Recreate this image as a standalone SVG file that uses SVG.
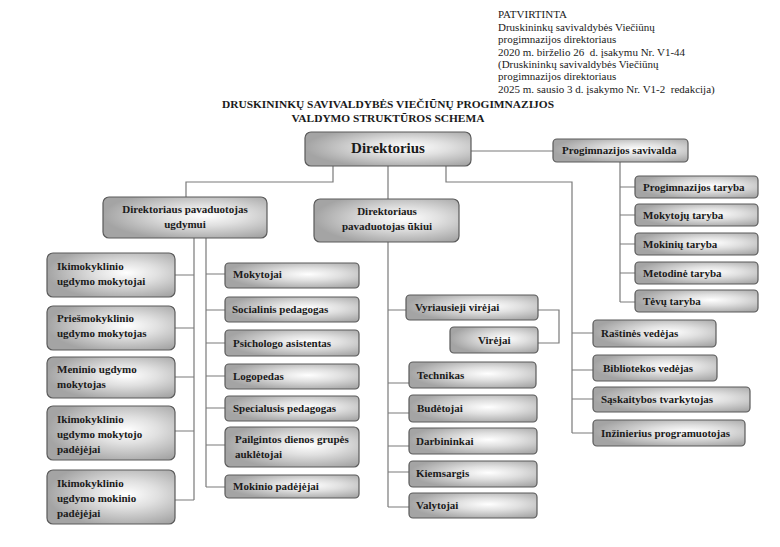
<svg xmlns="http://www.w3.org/2000/svg" width="780" height="547" viewBox="0 0 780 547">
<defs>
<radialGradient id="g" cx="0.62" cy="0.45" r="0.62">
<stop offset="0" stop-color="#ffffff"/>
<stop offset="0.4" stop-color="#e0e0e0"/>
<stop offset="1" stop-color="#a4a4a4"/>
</radialGradient>
</defs>
<style>
.b{fill:url(#g);stroke:#5a5a5a;stroke-width:1.2}
.t{font-family:"Liberation Serif","Times New Roman",serif;font-weight:bold;font-size:11px;fill:#1a1a1a}
.c{text-anchor:middle}
.h{font-family:"Liberation Serif","Times New Roman",serif;font-size:11px;fill:#1a1a1a;white-space:pre}
.ttl{font-family:"Liberation Serif","Times New Roman",serif;font-weight:bold;font-size:11.4px;fill:#1a1a1a;text-anchor:middle}
.l{fill:none;stroke:#7a7a7a;stroke-width:1.2}
</style>
<rect width="780" height="547" fill="#ffffff"/>
<g id="header">
<text class="h" x="498" y="18">PATVIRTINTA</text>
<text class="h" x="498" y="31">Druskininkų savivaldybės Viečiūnų</text>
<text class="h" x="498" y="43">progimnazijos direktoriaus</text>
<text class="h" x="498" y="56">2020 m. birželio 26  d. įsakymu Nr. V1-44</text>
<text class="h" x="498" y="68">(Druskininkų savivaldybės Viečiūnų</text>
<text class="h" x="498" y="80">progimnazijos direktoriaus</text>
<text class="h" x="498" y="93">2025 m. sausio 3 d. įsakymo Nr. V1-2  redakcija)</text>
<text class="ttl" x="388" y="108">DRUSKININKŲ SAVIVALDYBĖS VIEČIŪNŲ PROGIMNAZIJOS</text>
<text class="ttl" x="388" y="122">VALDYMO STRUKTŪROS SCHEMA</text>
</g>
<g id="connectors">
<path class="l" d="M333,166 V182 H186 V197"/>
<path class="l" d="M388,166 V199"/>
<path class="l" d="M446,166 V182 H572 V433"/>
<path class="l" d="M471,151 H553"/>
<path class="l" d="M620,162 V302"/>
<path class="l" d="M620,187 H635 M620,215 H635 M620,244 H635 M620,273 H635 M620,302 H635"/>
<path class="l" d="M194,238 V500 M175,275 H194 M175,328 H194 M175,377 H194 M175,431 H194 M175,500 H194"/>
<path class="l" d="M206,238 V487 M206,274 H225 M206,310 H225 M206,343 H225 M206,376 H225 M206,408 H225 M206,445 H225 M206,487 H225"/>
<path class="l" d="M388,242 V507 M388,310 H406 M388,383 H409 M388,413 H409 M388,446 H409 M388,472 H409 M388,507 H409"/>
<path class="l" d="M538,310 H559 V343 H538"/>
<path class="l" d="M572,333 H593 M572,370 H593 M572,399 H593 M572,433 H593"/>
</g>
<g id="n-direktorius"><rect class="b" x="305" y="132" width="166" height="34" rx="6"/><text class="t c" x="388" y="153" style="font-size:15px">Direktorius</text></g>
<g id="n-savivalda"><rect class="b" x="553" y="139" width="135" height="23" rx="4"/><text class="t" x="562" y="154">Progimnazijos savivalda</text></g>
<g id="n-prog-taryba"><rect class="b" x="635" y="176" width="123" height="22" rx="4"/><text class="t" x="643" y="191">Progimnazijos taryba</text></g>
<g id="n-mokytoju-taryba"><rect class="b" x="635" y="204" width="123" height="22" rx="4"/><text class="t" x="643" y="219">Mokytojų taryba</text></g>
<g id="n-mokiniu-taryba"><rect class="b" x="635" y="233" width="123" height="22" rx="4"/><text class="t" x="643" y="248">Mokinių taryba</text></g>
<g id="n-metodine-taryba"><rect class="b" x="635" y="262" width="123" height="22" rx="4"/><text class="t" x="643" y="277">Metodinė taryba</text></g>
<g id="n-tevu-taryba"><rect class="b" x="635" y="290" width="123" height="22" rx="4"/><text class="t" x="643" y="305">Tėvų taryba</text></g>
<g id="n-pav-ugdymui"><rect class="b" x="103" y="197" width="164" height="41" rx="6"/><text class="t c" x="185" y="213">Direktoriaus pavaduotojas</text><text class="t c" x="185" y="228">ugdymui</text></g>
<g id="n-pav-ukiui"><rect class="b" x="314" y="199" width="145" height="43" rx="6"/><text class="t c" x="387" y="215">Direktoriaus</text><text class="t c" x="387" y="230">pavaduotojas ūkiui</text></g>
<g id="n-iki-mokytojai"><rect class="b" x="47" y="253" width="128" height="44" rx="6"/><text class="t" x="57" y="270">Ikimokyklinio</text><text class="t" x="57" y="285">ugdymo mokytojai</text></g>
<g id="n-pries-mokytojas"><rect class="b" x="47" y="306" width="128" height="44" rx="6"/><text class="t" x="57" y="322">Priešmokyklinio</text><text class="t" x="57" y="337">ugdymo mokytojas</text></g>
<g id="n-meninio"><rect class="b" x="47" y="357" width="128" height="41" rx="6"/><text class="t" x="57" y="373">Meninio ugdymo</text><text class="t" x="57" y="388">mokytojas</text></g>
<g id="n-iki-mok-padejejai"><rect class="b" x="47" y="406" width="128" height="54" rx="6"/><text class="t" x="57" y="423">Ikimokyklinio</text><text class="t" x="57" y="438">ugdymo mokytojo</text><text class="t" x="57" y="453">padėjėjai</text></g>
<g id="n-iki-mokinio-padejejai"><rect class="b" x="47" y="470" width="128" height="54" rx="6"/><text class="t" x="57" y="487">Ikimokyklinio</text><text class="t" x="57" y="502">ugdymo mokinio</text><text class="t" x="57" y="517">padėjėjai</text></g>
<g id="n-mokytojai"><rect class="b" x="225" y="263" width="134" height="25" rx="4"/><text class="t" x="233" y="278">Mokytojai</text></g>
<g id="n-socialinis"><rect class="b" x="225" y="297" width="134" height="25" rx="4"/><text class="t" x="232" y="313">Socialinis pedagogas</text></g>
<g id="n-psichologo"><rect class="b" x="225" y="330" width="134" height="26" rx="4"/><text class="t" x="233" y="347">Psichologo asistentas</text></g>
<g id="n-logopedas"><rect class="b" x="225" y="364" width="134" height="25" rx="4"/><text class="t" x="233" y="380">Logopedas</text></g>
<g id="n-specialusis"><rect class="b" x="225" y="396" width="134" height="25" rx="4"/><text class="t" x="233" y="412">Specialusis pedagogas</text></g>
<g id="n-pailgintos"><rect class="b" x="225" y="427" width="134" height="40" rx="5"/><text class="t" x="235" y="443">Pailgintos dienos grupės</text><text class="t" x="235" y="458">auklėtojai</text></g>
<g id="n-mokinio-padejejai"><rect class="b" x="225" y="475" width="134" height="23" rx="4"/><text class="t" x="233" y="490">Mokinio padėjėjai</text></g>
<g id="n-vyriausieji"><rect class="b" x="406" y="295" width="132" height="25" rx="4"/><text class="t" x="415" y="311">Vyriausieji virėjai</text></g>
<g id="n-virejai"><rect class="b" x="450" y="327" width="88" height="26" rx="4"/><text class="t" x="478" y="344">Virėjai</text></g>
<g id="n-technikas"><rect class="b" x="409" y="362" width="127" height="26" rx="4"/><text class="t" x="417" y="379">Technikas</text></g>
<g id="n-budetojai"><rect class="b" x="409" y="395" width="128" height="27" rx="4"/><text class="t" x="417" y="412">Budėtojai</text></g>
<g id="n-darbininkai"><rect class="b" x="409" y="428" width="128" height="26" rx="4"/><text class="t" x="416" y="445">Darbininkai</text></g>
<g id="n-kiemsargis"><rect class="b" x="409" y="461" width="128" height="26" rx="4"/><text class="t" x="416" y="477">Kiemsargis</text></g>
<g id="n-valytojai"><rect class="b" x="409" y="493" width="128" height="25" rx="4"/><text class="t" x="416" y="509">Valytojai</text></g>
<g id="n-rastines"><rect class="b" x="593" y="320" width="123" height="27" rx="4"/><text class="t" x="601" y="337">Raštinės vedėjas</text></g>
<g id="n-bibliotekos"><rect class="b" x="593" y="355" width="124" height="26" rx="4"/><text class="t" x="603" y="372">Bibliotekos vedėjas</text></g>
<g id="n-saskaitybos"><rect class="b" x="593" y="387" width="157" height="25" rx="4"/><text class="t" x="601" y="403">Sąskaitybos tvarkytojas</text></g>
<g id="n-inzinierius"><rect class="b" x="593" y="420" width="152" height="26" rx="4"/><text class="t" x="601" y="437">Inžinierius programuotojas</text></g>
</svg>
